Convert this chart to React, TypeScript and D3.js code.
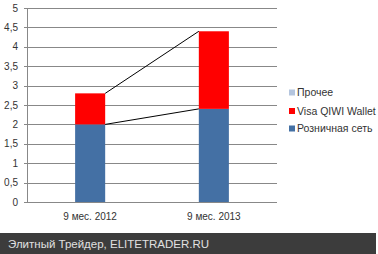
import React from "react";
import * as d3 from "d3";

const categories = ["9 мес. 2012", "9 мес. 2013"];
const seriesNames = ["Розничная сеть", "Visa QIWI Wallet", "Прочее"];
const retail = [2.0, 2.4];
const visa = [0.8, 2.0];
const other = [0, 0];
const yTicks = [0, 0.5, 1, 1.5, 2, 2.5, 3, 3.5, 4, 4.5, 5];
const colors = ["#4470a4", "#ff0000", "#b4c5de"];

const W = 378;
const H = 254;
const font = "'Liberation Sans', Arial, sans-serif";

export default function App() {
  const x = d3.scaleBand<string>().domain(categories).range([27, 277]).paddingInner(0.757).paddingOuter(0.389);
  const y = d3.scaleLinear().domain([0, 5]).range([202, 8]);
  const series = [retail, visa, other];
  const stack = categories.map((c, i) => {
    let acc = 0;
    return series.map((s) => {
      const y0 = acc;
      acc += s[i];
      return { y0, y1: acc };
    });
  });
  const bw = x.bandwidth();
  const fmt = (v: number) => String(v).replace(".", ",");
  const legendY = [128.5, 111, 92.5];
  return (
    <div style={{ position: "absolute", left: 0, top: 0 }}>
      <svg width={W} height={H} style={{ display: "block" }}>
        <rect x={0} y={0} width={W} height={H} fill="#ffffff" />
        {yTicks.map((t) => (
          <g key={t}>
            <line x1={24} x2={277} y1={Math.round(y(t)) + 0.5} y2={Math.round(y(t)) + 0.5} stroke="#888" strokeWidth={1} />
            <text x={18} y={y(t) + 3.5} fontSize={10} fontFamily={font} textAnchor="end" fill="#333">
              {fmt(t)}
            </text>
          </g>
        ))}
        <line x1={27.5} x2={27.5} y1={y(5)} y2={y(0)} stroke="#888" />
        {categories.map((c, i) =>
          stack[i].map((s, j) =>
            s.y1 > s.y0 ? (
              <rect key={c + j} x={x(c)} y={y(s.y1)} width={bw} height={y(s.y0) - y(s.y1)} fill={colors[j]} />
            ) : null
          )
        )}
        {[0, 1].map((j) => (
          <line
            key={j}
            x1={(x(categories[0]) as number) + bw}
            y1={y(stack[0][j].y1)}
            x2={x(categories[1]) as number}
            y2={y(stack[1][j].y1)}
            stroke="#000"
            strokeWidth={1}
          />
        ))}
        {categories.map((c) => (
          <text key={c} x={(x(c) as number) + bw / 2} y={220} fontSize={10} fontFamily={font} textAnchor="middle" fill="#333">
            {c}
          </text>
        ))}
        {seriesNames.map((n, j) => (
          <g key={n}>
            <rect x={289} y={legendY[j] - 3} width={6} height={6} fill={colors[j]} />
            <text x={297} y={legendY[j] + 3.7} fontSize={10.5} fontFamily={font} fill="#333">
              {n}
            </text>
          </g>
        ))}
        <rect x={0} y={233} width={376} height={21} fill="#3c3c3c" />
        <text x={8} y={248} fontSize={11.5} fontFamily={font} fill="#e0e0e0">
          Элитный Трейдер, ELITETRADER.RU
        </text>
      </svg>
    </div>
  );
}
